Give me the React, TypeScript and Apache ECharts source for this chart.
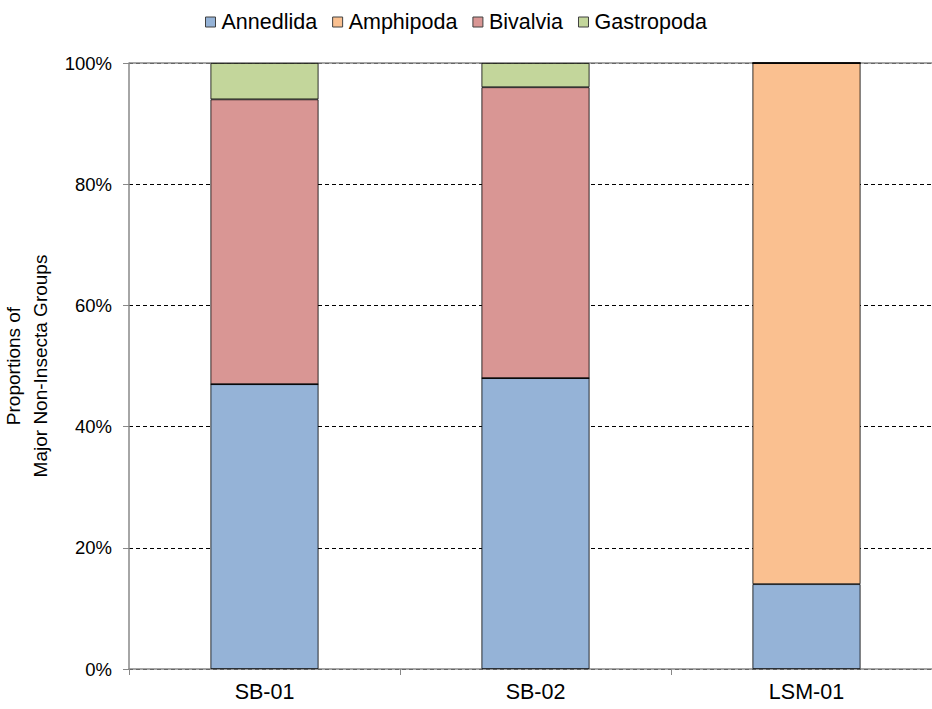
import React, { useEffect, useRef } from "react";
import * as echarts from "echarts";

// Sites along the x axis
const sites = ["SB-01", "SB-02", "LSM-01"];

// Percent of major non-insecta groups per site (stacked to 100%)
const annedlida = [47, 48, 14];
const amphipoda = [0, 0, 86];
const bivalvia = [47, 48, 0];
const gastropoda = [6, 4, 0];

const yTicks = [0, 20, 40, 60, 80, 100];

const colors = {
  Annedlida: "#95B3D7",
  Amphipoda: "#FAC090",
  Bivalvia: "#D99694",
  Gastropoda: "#C3D69B",
};

const font = "Liberation Sans, Arial, sans-serif";

export default function App() {
  const ref = useRef<HTMLDivElement>(null);

  useEffect(() => {
    document.body.style.margin = "0";
    document.body.style.overflow = "hidden";
    if (!ref.current) return;
    const chart = echarts.init(ref.current, null, { renderer: "svg" });

    const makeSeries = (name: string, data: number[], withTopLine = false) => ({
      name,
      type: "bar",
      stack: "total",
      barWidth: 108,
      data,
      itemStyle: {
        color: (colors as any)[name],
        borderColor: "#000",
        borderWidth: 0.8,
      },
      emphasis: { disabled: true },
      ...(withTopLine
        ? {
            markLine: {
              silent: true,
              symbol: "none",
              label: { show: false },
              lineStyle: { color: "#888", type: "solid", width: 1.5 },
              data: [{ yAxis: 100 }],
              z: 1,
            },
          }
        : {}),
    });

    chart.setOption({
      animation: false,
      textStyle: { fontFamily: font },
      legend: {
        top: 6,
        left: 200,
        itemWidth: 10,
        itemHeight: 10,
        itemGap: 15,
        icon: "rect",
        itemStyle: { borderColor: "#404040", borderWidth: 1 },
        textStyle: { fontSize: 21.5, color: "#000", fontFamily: font, padding: [0, 0, 0, 1] },
        data: ["Annedlida", "Amphipoda", "Bivalvia", "Gastropoda"],
      },
      // plot area runs slightly past the visible right edge
      grid: {
        left: 129,
        right: 0,
        top: 63,
        bottom: 40,
        containLabel: false,
        outerBoundsMode: "none",
      },
      xAxis: {
        type: "category",
        data: sites,
        boundaryGap: true,
        axisLine: { lineStyle: { color: "#888", width: 1.5 } },
        axisTick: { show: true, length: 6, inside: false, lineStyle: { color: "#888" } },
        axisLabel: { fontSize: 21.5, color: "#000", margin: 12, fontFamily: font },
      },
      yAxis: {
        type: "value",
        min: yTicks[0],
        max: yTicks[yTicks.length - 1],
        interval: 20,
        name: "Proportions of\nMajor Non-Insecta Groups",
        nameLocation: "middle",
        nameGap: 60,
        nameTextStyle: { fontSize: 19, color: "#000", lineHeight: 27, fontFamily: font },
        axisLine: { show: true, lineStyle: { color: "#888", width: 1.5 } },
        axisTick: { show: true, length: 6, lineStyle: { color: "#888" } },
        axisLabel: {
          fontSize: 18.5,
          color: "#000",
          margin: 17,
          fontFamily: font,
          formatter: (v: number) => `${v}%`,
        },
        splitLine: { show: true, lineStyle: { color: "#000", type: [4, 3], width: 1 } },
      },
      series: [
        makeSeries("Annedlida", annedlida, true),
        makeSeries("Amphipoda", amphipoda),
        makeSeries("Bivalvia", bivalvia),
        makeSeries("Gastropoda", gastropoda),
      ],
    });

    return () => chart.dispose();
  }, []);

  return (
    <div style={{ width: 932, height: 709, overflow: "hidden" }}>
      <div ref={ref} style={{ width: 942, height: 709 }} />
    </div>
  );
}
